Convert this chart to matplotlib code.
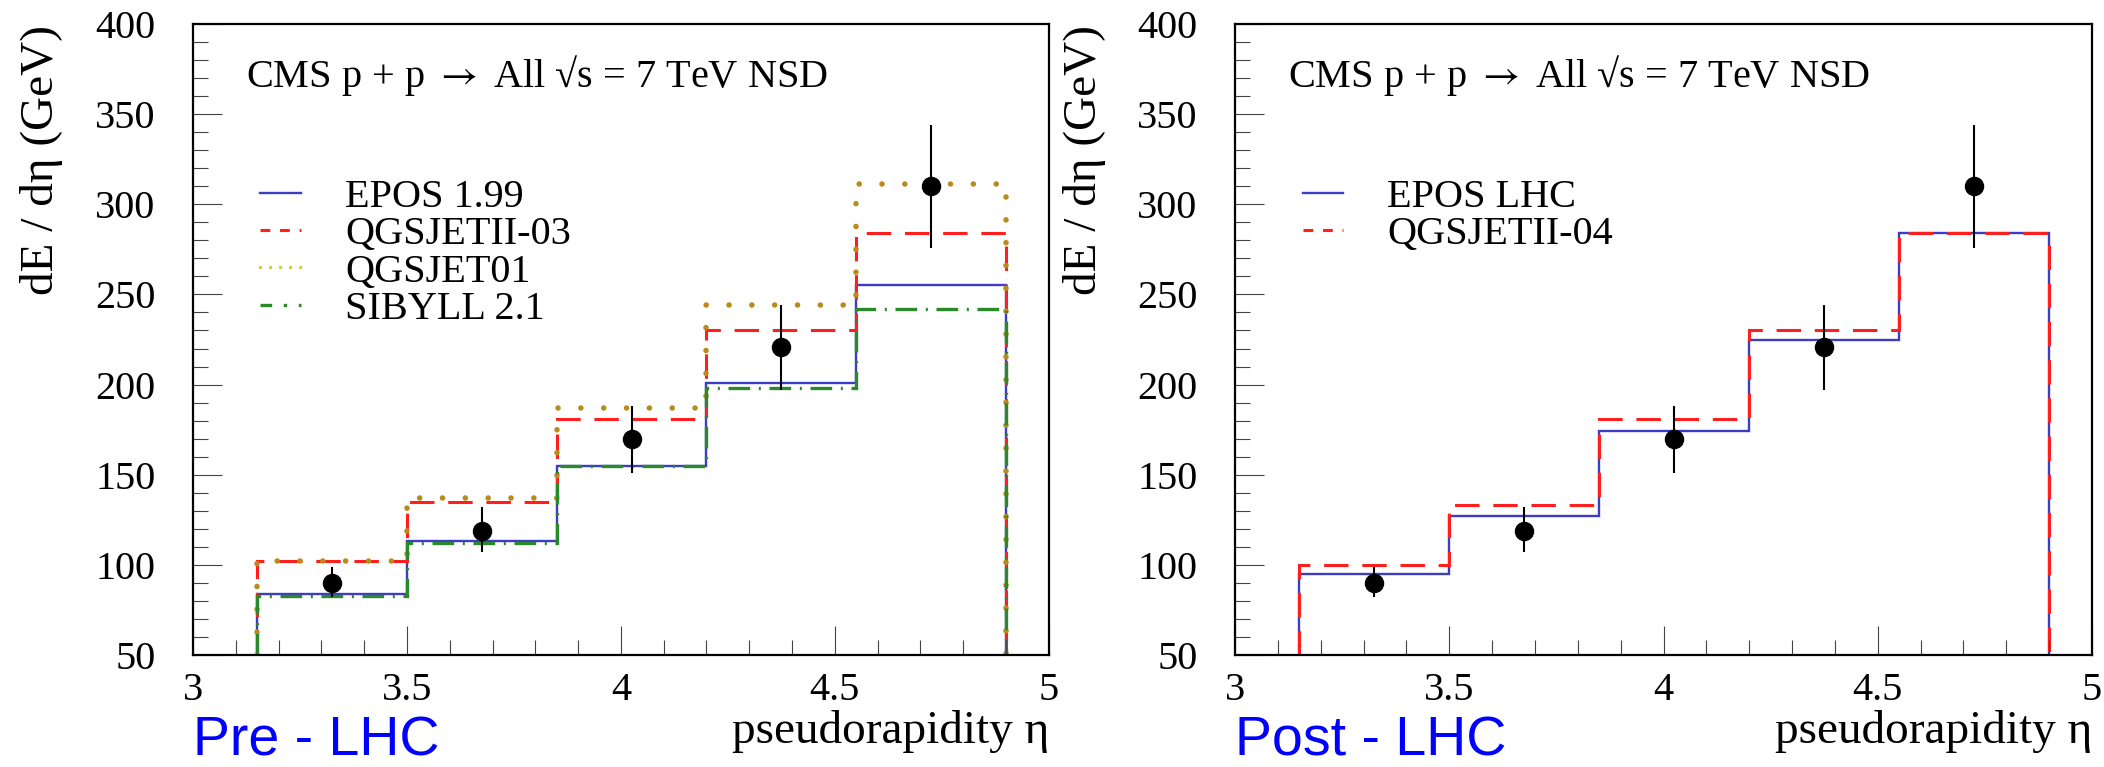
import matplotlib
matplotlib.use("Agg")
import matplotlib.pyplot as plt
import numpy as np
from matplotlib.ticker import MultipleLocator, FormatStrFormatter

# bin edges in pseudorapidity and CMS data
eta_edges = [3.15, 3.5, 3.85, 4.2, 4.55, 4.9]
eta_data = [3.325, 3.675, 4.025, 4.375, 4.725]
dE_data = [90, 119, 170, 221, 310]
dE_err_lo = [8, 12, 19, 24, 34]
dE_err_hi = [9, 13, 18, 23, 34]

# pre-LHC models
epos_199 = [84, 113, 155, 201, 255]
qgsjetII_03 = [102, 135, 181, 230, 284]
qgsjet01 = [102, 137, 187, 244, 311]
sibyll_21 = [83, 112, 155, 198, 242]

# post-LHC models
epos_lhc = [95, 127, 174, 225, 284]
qgsjetII_04 = [100, 133, 181, 230, 284]

plt.rcParams['font.family'] = ['Liberation Serif', 'DejaVu Serif']
plt.rcParams['mathtext.fontset'] = 'stix'

STYLES = {
    'EPOS': dict(color='#3c3cc4', lw=1.7, ls='-'),
    'QGSII': dict(color='#ff1f1f', lw=2.2, ls=(0, (8, 4.5))),
    'QGS01': dict(color='#b88c1c', lw=4.0, ls=(0, (0.01, 4.1)), capstyle='round'),
    'SIB': dict(color='#2a8a2a', lw=2.4, ls=(0, (6.5, 2.6, 0.6, 2.6))),
}
LEGEND_COLORS = {'QGS01': '#c8d030'}

TICK_FS = 29
TITLE_FS = 34


def draw_model(ax, values, key, label):
    st = STYLES[key]
    art = ax.stairs(values, eta_edges, baseline=50, color=st['color'],
                    linewidth=st['lw'], linestyle=st['ls'], label=label)
    if 'capstyle' in st:
        art.set_capstyle(st['capstyle'])
    return art


def setup_axes(ax):
    ax.set_xlim(3, 5)
    ax.set_ylim(50, 400)
    ax.xaxis.set_major_locator(MultipleLocator(0.5))
    ax.xaxis.set_minor_locator(MultipleLocator(0.1))
    ax.yaxis.set_major_locator(MultipleLocator(50))
    ax.yaxis.set_minor_locator(MultipleLocator(10))
    ax.xaxis.set_major_formatter(FormatStrFormatter('%g'))
    ax.tick_params(which='both', direction='in', top=False, right=False,
                   width=0.8, color='#444444', labelsize=TICK_FS)
    ax.tick_params(which='major', length=21)
    ax.tick_params(which='minor', length=11)
    ax.tick_params(axis='x', which='major', pad=12)
    ax.tick_params(axis='y', which='major', pad=27)
    for sp in ax.spines.values():
        sp.set_linewidth(1.6)
    ax.text(0.062, 0.918, 'CMS p + p $\\rightarrow$ All \u221as = 7 TeV NSD',
            transform=ax.transAxes, fontsize=TICK_FS, va='center', ha='left')


def draw_data(ax):
    ax.errorbar(eta_data, dE_data, yerr=[dE_err_lo, dE_err_hi], fmt='o',
                color='black', markersize=13, elinewidth=1.5, capsize=0, zorder=5)


fig = plt.figure(figsize=(21.04, 7.67), dpi=100)
ax1 = fig.add_axes([0.0917, 0.146, 0.4068, 0.8227])
ax2 = fig.add_axes([0.5870, 0.146, 0.4073, 0.8227])

# left panel: pre-LHC
setup_axes(ax1)
draw_model(ax1, epos_199, 'EPOS', 'EPOS 1.99')
draw_model(ax1, qgsjetII_03, 'QGSII', 'QGSJETII-03')
draw_model(ax1, qgsjet01, 'QGS01', 'QGSJET01')
draw_model(ax1, sibyll_21, 'SIB', 'SIBYLL 2.1')
draw_data(ax1)

# right panel: post-LHC
setup_axes(ax2)
draw_model(ax2, epos_lhc, 'EPOS', 'EPOS LHC')
draw_model(ax2, qgsjetII_04, 'QGSII', 'QGSJETII-04')
draw_data(ax2)

for ax in (ax1, ax2):
    handles, labels = ax.get_legend_handles_labels()
    keep = [i for i, h in enumerate(handles) if not hasattr(h, 'has_xerr')]
    handles = [handles[i] for i in keep]
    labels = [labels[i] for i in keep]
    leg = ax.legend(handles, labels, loc='upper left', bbox_to_anchor=(0.06, 0.78),
                    frameon=False, fontsize=TICK_FS, handlelength=1.0,
                    handletextpad=1.1, labelspacing=0.0, borderaxespad=0)
    for line, lab in zip(leg.get_lines(), labels):
        if lab == 'QGSJET01':
            line.set_dash_capstyle('round')
            line.set_linewidth(2.4)
            line.set_linestyle((0, (0.01, 3.0)))
            line.set_color(LEGEND_COLORS['QGS01'])
        elif lab.startswith('QGSJETII'):
            line.set_linestyle((0, (3.2, 3.2)))
        elif lab.startswith('SIBYLL'):
            line.set_linestyle((0, (3.5, 3.5, 1, 3.5)))

# axis titles and panel tags
for ax, tag in ((ax1, 'Pre - LHC'), (ax2, 'Post - LHC')):
    pos = ax.get_position()
    fig.text(pos.x1, 1 - 743 / 767, 'pseudorapidity η', fontsize=TITLE_FS,
             ha='right', va='baseline')
    fig.text(pos.x0 - 151 / 2104, 1 - 25 / 767, 'dE / dη (GeV)', fontsize=TITLE_FS,
             rotation=90, ha='center', va='top')
    fig.text(pos.x0 + 0.0, 1 - 755 / 767, tag, fontsize=40, color='#0000ff',
             family='Liberation Sans', ha='left', va='baseline')

fig.savefig('out.png', dpi=100)
